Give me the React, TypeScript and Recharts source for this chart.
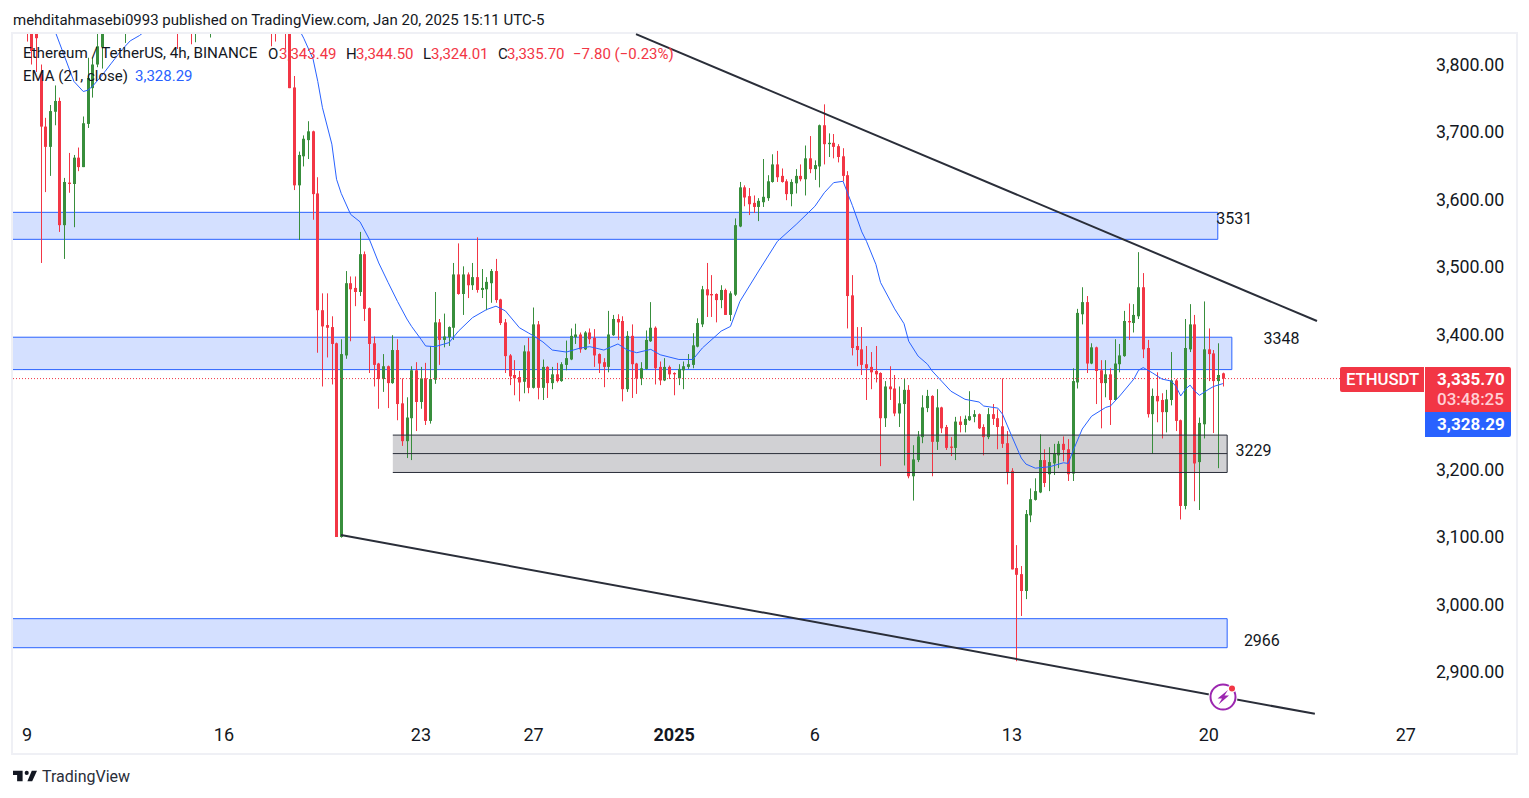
import { Bar, ComposedChart, Line, ReferenceArea, ReferenceDot, ReferenceLine, XAxis, YAxis } from "recharts";

const RED = "#f23645";
const GREEN = "#388e3c";
const BLUE = "#2962ff";
const DARK = "#2a2e39";
const TEXT = "#131722";
const FONT = "Roboto, sans-serif";

// [index of the 4h candle counted from Dec 9, open, high, low, close]
const candlesDec9 = [
  [0, 3900, 3950, 3835, 3850], [1, 3880, 3900, 3801, 3821], [2, 3860, 3880, 3790, 3840], [3, 3787, 3801, 3507, 3709],
  [4, 3709, 3722, 3612, 3679], [5, 3679, 3741, 3636, 3732], [6, 3731, 3770, 3711, 3747], [7, 3747, 3752, 3553, 3563],
  [8, 3563, 3633, 3513, 3627], [9, 3626, 3670, 3611, 3624], [10, 3624, 3667, 3560, 3663], [11, 3663, 3678, 3643, 3649],
  [12, 3649, 3724, 3649, 3714], [13, 3713, 3811, 3707, 3781], [14, 3766, 3811, 3752, 3801], [15, 3801, 3850, 3797, 3828],
  [16, 3827, 3900, 3795, 3870], [21, 3860, 3900, 3833, 3880], [32, 3900, 3950, 3824, 3870], [35, 3900, 3950, 3831, 3870],
  [36, 3870, 3950, 3834, 3900], [39, 3870, 3950, 3841, 3900],
];

const candlesDec16 = [
  [52, 3900, 3950, 3828, 3870], [53, 3900, 3950, 3835, 3870], [55, 3900, 3950, 3824, 3860], [56, 3870, 3900, 3766, 3766],
  [57, 3767, 3784, 3615, 3622], [58, 3622, 3672, 3541, 3667], [59, 3665, 3696, 3650, 3691], [60, 3689, 3717, 3661, 3702],
  [61, 3702, 3703, 3571, 3609], [62, 3610, 3634, 3374, 3437], [63, 3437, 3462, 3324, 3413], [64, 3415, 3462, 3367, 3411],
  [65, 3412, 3428, 3327, 3387], [66, 3388, 3389, 3101, 3101], [67, 3101, 3394, 3100, 3372], [68, 3370, 3495, 3365, 3477],
  [69, 3477, 3487, 3391, 3468], [70, 3470, 3487, 3443, 3464], [71, 3464, 3553, 3458, 3520], [72, 3520, 3524, 3421, 3439],
  [73, 3440, 3441, 3344, 3387], [74, 3388, 3398, 3324, 3356], [75, 3358, 3359, 3291, 3335], [76, 3335, 3372, 3316, 3354],
  [77, 3354, 3355, 3292, 3329], [78, 3329, 3400, 3328, 3378], [79, 3378, 3394, 3274, 3298], [80, 3299, 3336, 3236, 3243],
  [81, 3243, 3308, 3218, 3278], [82, 3277, 3354, 3215, 3348], [83, 3348, 3360, 3258, 3301],
];

const candlesDec23 = [
  [84, 3301, 3353, 3291, 3336], [85, 3336, 3359, 3267, 3273], [86, 3273, 3384, 3269, 3335], [87, 3334, 3464, 3328, 3419],
  [88, 3419, 3424, 3356, 3393], [89, 3393, 3432, 3382, 3398], [90, 3397, 3413, 3384, 3412], [91, 3411, 3507, 3393, 3490],
  [92, 3490, 3536, 3460, 3461], [93, 3461, 3502, 3430, 3490], [94, 3490, 3493, 3455, 3474], [95, 3474, 3507, 3467, 3486],
  [96, 3486, 3545, 3463, 3467], [97, 3467, 3498, 3455, 3470], [98, 3468, 3486, 3437, 3479], [99, 3477, 3498, 3448, 3495],
  [100, 3495, 3513, 3448, 3452], [101, 3453, 3454, 3415, 3418], [102, 3419, 3424, 3344, 3369], [103, 3370, 3372, 3326, 3339],
  [104, 3341, 3363, 3311, 3336], [105, 3338, 3347, 3302, 3330], [106, 3331, 3385, 3314, 3376], [107, 3376, 3396, 3314, 3322],
  [108, 3322, 3441, 3321, 3416], [109, 3416, 3421, 3305, 3322], [110, 3322, 3364, 3304, 3353], [111, 3353, 3354, 3307, 3329],
  [112, 3329, 3353, 3320, 3342], [113, 3342, 3359, 3330, 3332], [114, 3332, 3360, 3331, 3357], [115, 3356, 3392, 3348, 3366],
  [116, 3364, 3410, 3363, 3399], [117, 3397, 3417, 3387, 3401], [118, 3401, 3404, 3374, 3379], [119, 3379, 3406, 3378, 3404],
  [120, 3404, 3410, 3387, 3394], [121, 3396, 3409, 3353, 3370], [122, 3372, 3373, 3344, 3358], [123, 3360, 3366, 3323, 3353],
  [124, 3353, 3436, 3345, 3401], [125, 3400, 3430, 3399, 3424], [126, 3424, 3431, 3393, 3419], [127, 3421, 3428, 3302, 3320],
  [128, 3320, 3406, 3316, 3399], [129, 3399, 3416, 3307, 3357], [130, 3358, 3359, 3313, 3336], [131, 3336, 3360, 3326, 3351],
  [132, 3350, 3407, 3349, 3393], [133, 3391, 3449, 3390, 3411], [134, 3411, 3413, 3327, 3351], [135, 3353, 3361, 3326, 3333],
  [136, 3333, 3366, 3332, 3353], [137, 3353, 3355, 3335, 3342],
];

const candlesJan1 = [
  [138, 3344, 3345, 3311, 3342], [139, 3336, 3357, 3326, 3350], [140, 3348, 3361, 3320, 3354], [141, 3353, 3372, 3350, 3357],
  [142, 3356, 3403, 3351, 3385], [143, 3383, 3425, 3382, 3418], [144, 3416, 3473, 3412, 3468], [145, 3468, 3507, 3427, 3459],
  [146, 3461, 3489, 3427, 3459], [147, 3461, 3462, 3419, 3452], [148, 3452, 3474, 3440, 3467], [149, 3467, 3469, 3430, 3430],
  [150, 3430, 3465, 3421, 3462], [151, 3460, 3573, 3458, 3563], [152, 3561, 3627, 3560, 3619], [153, 3619, 3622, 3591, 3604],
  [154, 3606, 3618, 3578, 3594], [155, 3596, 3607, 3581, 3590], [156, 3590, 3603, 3569, 3599], [157, 3597, 3661, 3590, 3605],
  [158, 3603, 3637, 3599, 3628], [159, 3627, 3668, 3626, 3653], [160, 3653, 3673, 3627, 3634], [161, 3636, 3647, 3626, 3627],
  [162, 3628, 3631, 3600, 3609], [163, 3609, 3631, 3591, 3627], [164, 3625, 3646, 3610, 3636], [165, 3636, 3653, 3628, 3631],
  [166, 3631, 3681, 3607, 3662], [167, 3662, 3695, 3640, 3646],
];

const candlesJan6 = [
  [168, 3646, 3659, 3630, 3652], [169, 3650, 3712, 3619, 3711], [170, 3711, 3742, 3653, 3683], [171, 3683, 3699, 3664, 3685],
  [172, 3685, 3698, 3662, 3679], [173, 3680, 3683, 3656, 3664], [174, 3665, 3677, 3628, 3636], [175, 3637, 3643, 3410, 3458],
  [176, 3459, 3489, 3370, 3381], [177, 3384, 3412, 3354, 3378], [178, 3379, 3412, 3341, 3356], [179, 3357, 3384, 3304, 3351],
  [180, 3353, 3375, 3320, 3345], [181, 3347, 3384, 3330, 3342], [182, 3344, 3345, 3206, 3277], [183, 3277, 3332, 3264, 3324],
  [184, 3324, 3354, 3304, 3320], [185, 3321, 3341, 3280, 3284], [186, 3284, 3324, 3264, 3299], [187, 3298, 3335, 3207, 3319],
  [188, 3319, 3326, 3188, 3191], [189, 3191, 3237, 3155, 3216], [190, 3215, 3258, 3212, 3250], [191, 3249, 3311, 3240, 3293],
  [192, 3292, 3319, 3286, 3310], [193, 3310, 3311, 3191, 3242], [194, 3242, 3320, 3230, 3293], [195, 3293, 3294, 3255, 3262],
  [196, 3264, 3267, 3230, 3233], [197, 3235, 3249, 3221, 3233], [198, 3233, 3279, 3215, 3272], [199, 3272, 3280, 3256, 3267],
  [200, 3267, 3281, 3256, 3276], [201, 3274, 3317, 3273, 3280], [202, 3279, 3289, 3271, 3283], [203, 3283, 3284, 3261, 3262],
  [204, 3264, 3268, 3222, 3249], [205, 3249, 3292, 3246, 3283], [206, 3283, 3298, 3267, 3276], [207, 3277, 3290, 3231, 3264],
  [208, 3265, 3336, 3233, 3239], [209, 3240, 3258, 3179, 3197],
];

const candlesJan13 = [
  [210, 3199, 3203, 3053, 3053], [211, 3055, 3089, 2917, 3045], [212, 3046, 3058, 2984, 3021], [213, 3021, 3141, 3009, 3135],
  [214, 3133, 3173, 3123, 3157], [215, 3156, 3188, 3155, 3169], [216, 3167, 3253, 3166, 3215], [217, 3215, 3231, 3175, 3181],
  [218, 3194, 3234, 3169, 3212], [219, 3210, 3239, 3193, 3224], [220, 3222, 3243, 3203, 3239], [221, 3239, 3250, 3213, 3230],
  [222, 3231, 3246, 3184, 3194], [223, 3195, 3351, 3184, 3332], [224, 3330, 3439, 3321, 3433], [225, 3431, 3471, 3416, 3449],
  [226, 3449, 3458, 3344, 3358], [227, 3358, 3388, 3357, 3382], [228, 3382, 3383, 3298, 3347], [229, 3348, 3363, 3262, 3329],
  [230, 3329, 3363, 3308, 3342], [231, 3342, 3351, 3267, 3304], [232, 3304, 3394, 3303, 3358], [233, 3357, 3387, 3345, 3370],
  [234, 3369, 3436, 3368, 3421], [235, 3421, 3447, 3393, 3419], [236, 3418, 3446, 3404, 3430], [237, 3428, 3523, 3424, 3471],
  [238, 3471, 3492, 3366, 3379], [239, 3381, 3393, 3278, 3283], [240, 3283, 3321, 3224, 3310], [241, 3310, 3345, 3271, 3302],
  [242, 3304, 3314, 3247, 3286], [243, 3286, 3319, 3256, 3305], [244, 3304, 3375, 3296, 3333], [245, 3333, 3335, 3258, 3273],
  [246, 3274, 3275, 3127, 3147], [247, 3147, 3424, 3142, 3381], [248, 3379, 3446, 3375, 3416], [249, 3416, 3430, 3154, 3210],
  [250, 3212, 3278, 3141, 3270], [251, 3268, 3450, 3247, 3379],
];

const candlesJan20 = [
  [252, 3379, 3410, 3332, 3372], [253, 3373, 3378, 3255, 3332], [254, 3332, 3388, 3203, 3341], [255, 3343.49, 3344.5, 3324.01, 3335.7],
];

// EMA 21 read at [candle index, value]; the off-chart stretch is only a guess
const emaPoints = [
  [4, 3880], [6, 3850], [8, 3813], [10, 3776], [12, 3761], [13, 3763], [14, 3769], [16, 3785], [18, 3803], [20, 3821], [22, 3836],
  [24, 3844], [26, 3855], [40, 3960], [56, 3880], [59, 3840], [61, 3809], [62, 3776], [63, 3737], [65, 3683], [66, 3631], [67, 3610],
  [69, 3579], [71, 3568], [73, 3542], [75, 3507], [77, 3478], [79, 3450], [81, 3424], [82, 3413], [84, 3394], [85, 3384], [87, 3383],
  [90, 3389], [92, 3406], [95, 3426], [98, 3438], [100, 3443], [102, 3436], [105, 3411], [107, 3403], [108, 3399], [110, 3390],
  [112, 3378], [115, 3375], [118, 3381], [120, 3383], [123, 3378], [126, 3387], [128, 3378], [130, 3374], [133, 3379], [135, 3371],
  [139, 3364], [142, 3364], [144, 3381], [148, 3406], [150, 3413], [152, 3450], [156, 3495], [160, 3539], [164, 3564], [168, 3591],
  [170, 3611], [172, 3626], [174, 3628], [176, 3592], [178, 3553], [179, 3539], [181, 3505], [182, 3478], [185, 3439], [187, 3417],
  [188, 3391], [190, 3369], [192, 3357], [193, 3347], [195, 3332], [197, 3317], [200, 3305], [203, 3301], [204, 3295], [207, 3292],
  [208, 3283], [210, 3250], [212, 3218], [213, 3209], [215, 3203], [218, 3205], [221, 3211], [222, 3210], [223, 3228], [225, 3261],
  [227, 3280], [230, 3293], [231, 3295], [233, 3310], [236, 3335], [237, 3348], [238, 3352], [240, 3344], [242, 3335], [244, 3332],
  [245, 3324], [246, 3310], [247, 3320], [248, 3326], [249, 3317], [250, 3311], [252, 3320], [253, 3324], [255, 3328.29],
];

// 3,300.00 sits behind the price labels in the original, so it is left out
const priceTicks = [2900, 3000, 3100, 3200, 3400, 3500, 3600, 3700, 3800];
const dateTickIndex = [0, 42, 84, 108, 138, 168, 210, 252, 294];
const dateTickLabels = ["9", "16", "23", "27", "2025", "6", "13", "20", "27"];

// [from candle, to candle, low, high]; the left ones run past the pane edge
const blueZones = [
  [-6, 253.9, 3542, 3582],
  [-6, 256.9, 3349, 3397],
  [-6, 255.9, 2937, 2980],
];
const grayZone = { from: 78, to: 255.9, low: 3196.6, mid: 3224.6, high: 3252 };

// [from candle, from price, to candle, to price]
const trendLines = [
  [129.85, 3846, 275.05, 3421],
  [66.95, 3104, 274.6, 2839],
];

// [text, candle index, price]
const zoneLabels: [string, number, number][] = [
  ["3531", 257.4, 3573],
  ["3348", 267.5, 3396],
  ["3229", 261.5, 3230],
  ["2966", 263.3, 2948],
];

const lastClose = 3335.7;
const xDomain = [-2.985, 297.87];
const yDomain = [2829.9, 3846.2];

const allCandles = [...candlesDec9, ...candlesDec16, ...candlesDec23, ...candlesJan1, ...candlesJan6, ...candlesJan13, ...candlesJan20];

const rows = (() => {
  const byIdx = new Map<number, any>();
  for (const [idx, open, high, low, close] of allCandles) {
    byIdx.set(idx, { idx, open, high, low, close, range: [low, high] });
  }
  for (const [idx, ema] of emaPoints) {
    byIdx.set(idx, { ...(byIdx.get(idx) ?? { idx }), ema });
  }
  return [...byIdx.values()].sort((a, b) => a.idx - b.idx);
})();

function Candle(props: any) {
  const { x, y, width, height, payload } = props;
  if (!payload || payload.high == null) return null;
  const { open, high, low, close } = payload;
  const perUnit = height / (high - low);
  const top = y + (high - Math.max(open, close)) * perUnit;
  const bottom = y + (high - Math.min(open, close)) * perUnit;
  const color = close >= open ? GREEN : RED;
  const center = Math.floor(x + width / 2);
  return (
    <g>
      <rect x={center} y={y} width={1} height={height} fill={color} />
      <rect x={center - 1} y={top} width={3} height={Math.max(bottom - top, 1)} fill={color} />
    </g>
  );
}

function DateTick(props: any) {
  const { x, y, payload } = props;
  const i = dateTickIndex.indexOf(payload.value);
  const isYear = dateTickLabels[i] === "2025";
  return (
    <text x={x} y={y} textAnchor="middle" dominantBaseline="central" fontFamily={FONT} fontSize={18} fontWeight={isYear ? 700 : 400} fill={TEXT}>
      {dateTickLabels[i]}
    </text>
  );
}

function Abs({ x, y, color = TEXT, size = 15, weight = 400, children }: any) {
  return (
    <span style={{ position: "absolute", left: x, top: y, transform: "translateY(-50%)", color, fontSize: size, fontWeight: weight, fontFamily: FONT, whiteSpace: "pre", lineHeight: 1 }}>
      {children}
    </span>
  );
}

export default function App() {
  return (
    <div style={{ position: "absolute", left: 0, top: 0, width: 1529, height: 798, background: "#fff", overflow: "hidden" }}>
      <div style={{ position: "absolute", left: 11, top: 32, width: 1503, height: 719, border: "2px solid #eff0f5" }} />

      <div style={{ position: "absolute", left: 0, top: 0 }}>
        <ComposedChart width={1529} height={798} data={rows} margin={{ top: 34, right: 13, bottom: 44, left: 13 }}>
          <XAxis
            dataKey="idx"
            type="number"
            domain={xDomain}
            allowDataOverflow
            ticks={dateTickIndex}
            interval={0}
            axisLine={false}
            tickLine={false}
            tickSize={0}
            tickMargin={14}
            height={34}
            tick={<DateTick />}
          />
          <YAxis
            orientation="right"
            type="number"
            domain={yDomain}
            allowDataOverflow
            ticks={priceTicks}
            interval={0}
            axisLine={false}
            tickLine={false}
            tickSize={0}
            tickMargin={12}
            width={92}
            tick={{ fill: TEXT, fontSize: 17.8, fontFamily: FONT, dy: -1 }}
            tickFormatter={(v: number) => v.toLocaleString("en-US", { minimumFractionDigits: 2 })}
          />

          {blueZones.map(([x1, x2, y1, y2], i) => (
            <ReferenceArea key={i} x1={x1} x2={x2} y1={y1} y2={y2} fill={BLUE} fillOpacity={0.2} stroke={BLUE} strokeOpacity={1} strokeWidth={1} ifOverflow="hidden" />
          ))}
          <ReferenceArea x1={grayZone.from} x2={grayZone.to} y1={grayZone.low} y2={grayZone.high} fill="#d1d1d4" fillOpacity={1} stroke="none" ifOverflow="visible" />
          {[grayZone.low, grayZone.mid, grayZone.high].map((p) => (
            <ReferenceLine key={p} segment={[{ x: grayZone.from, y: p }, { x: grayZone.to, y: p }]} stroke={DARK} strokeWidth={1} ifOverflow="visible" />
          ))}
          <ReferenceLine segment={[{ x: grayZone.to, y: grayZone.low }, { x: grayZone.to, y: grayZone.high }]} stroke={DARK} strokeWidth={1} ifOverflow="visible" />
          {trendLines.map(([x1, y1, x2, y2], i) => (
            <ReferenceLine key={i} segment={[{ x: x1, y: y1 }, { x: x2, y: y2 }]} stroke={DARK} strokeWidth={2} ifOverflow="visible" />
          ))}
          <ReferenceLine y={lastClose} stroke={RED} strokeWidth={1} strokeDasharray="1 2" ifOverflow="visible" />

          <Bar dataKey="range" barSize={3} shape={<Candle />} isAnimationActive={false} />
          <Line dataKey="ema" type="linear" connectNulls stroke={BLUE} strokeWidth={1} dot={false} activeDot={false} isAnimationActive={false} />

          {zoneLabels.map(([text, x, y]) => (
            <ReferenceDot key={text} x={x} y={y} r={1} fill="none" stroke="none" ifOverflow="visible" label={{ value: text, position: "center", fill: TEXT, fontSize: 16, fontFamily: FONT }} />
          ))}
        </ComposedChart>
      </div>

      <Abs x={13} y={20} size={15}>mehditahmasebi0993 published on TradingView.com, Jan 20, 2025 15:11 UTC-5</Abs>

      <Abs x={23} y={53.5} size={15.2}>Ethereum / TetherUS, 4h, BINANCE</Abs>
      <Abs x={268} y={53.5}>O</Abs>
      <Abs x={279} y={53.5} color={RED}>3,343.49</Abs>
      <Abs x={346} y={53.5}>H</Abs>
      <Abs x={356} y={53.5} color={RED}>3,344.50</Abs>
      <Abs x={423} y={53.5}>L</Abs>
      <Abs x={431} y={53.5} color={RED}>3,324.01</Abs>
      <Abs x={498} y={53.5}>C</Abs>
      <Abs x={507} y={53.5} color={RED}>3,335.70</Abs>
      <Abs x={573} y={53.5} color={RED}>−7.80 (−0.23%)</Abs>
      <Abs x={23} y={75.5}>EMA (21, close)</Abs>
      <Abs x={135} y={75.5} color={BLUE}>3,328.29</Abs>

      <div style={{ position: "absolute", left: 1340, top: 367, width: 84, height: 25, background: RED, borderRadius: "2px 0 0 2px" }} />
      <Abs x={1346} y={380} color="#fff" size={16.7} weight={500}>ETHUSDT</Abs>
      <div style={{ position: "absolute", left: 1425, top: 367, width: 86, height: 45, background: RED, borderRadius: "0 2px 0 0" }} />
      <Abs x={1437} y={379} color="#fff" size={17} weight={700}>3,335.70</Abs>
      <Abs x={1437} y={399} color="#ffd0d5" size={17} weight={500}>03:48:25</Abs>
      <div style={{ position: "absolute", left: 1425, top: 412, width: 86, height: 25, background: BLUE, borderRadius: "0 0 2px 0" }} />
      <Abs x={1437} y={424} color="#fff" size={17} weight={700}>3,328.29</Abs>

      <svg style={{ position: "absolute", left: 1205, top: 680 }} width={36} height={36} viewBox="0 0 36 36">
        <circle cx={18} cy={17} r={14.5} fill="#fff" />
        <circle cx={18} cy={17} r={12.5} fill="none" stroke="#9c27b0" strokeWidth={2} />
        <path d="M23 10 L12.5 18.5 H17 L13.5 24.5 L24 15.5 H19.5 Z" fill="#9c27b0" />
        <circle cx={27} cy={8.5} r={4} fill="#fff" />
        <circle cx={27} cy={8.5} r={3} fill={RED} />
      </svg>

      <svg style={{ position: "absolute", left: 13, top: 770 }} width={24} height={12} viewBox="0 6 35 15">
        <path d="M14 6H0v6h6v9h8V6zM28 21h-7l6.4-15h7.6L28 21z" fill={TEXT} />
        <circle cx={20} cy={9} r={3} fill={TEXT} />
      </svg>
      <Abs x={42} y={777} size={16} color="#2a2e39">TradingView</Abs>
    </div>
  );
}
